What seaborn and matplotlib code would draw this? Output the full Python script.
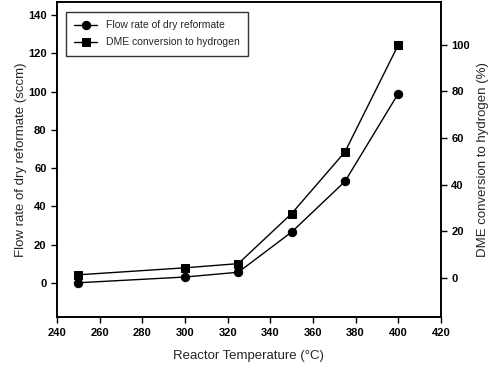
import matplotlib
matplotlib.use("Agg")
import matplotlib.pyplot as plt
import seaborn as sns
import pandas as pd

# data
temps = [250, 300, 325, 350, 375, 400]
flow_rate = [0.0, 3.0, 5.5, 26.5, 53.0, 99.0]        # sccm, left axis
dme_conversion = [1.2, 4.2, 6.0, 27.5, 54.0, 100.0]  # %, right axis

x_ticks = [240, 260, 280, 300, 320, 340, 360, 380, 400, 420]
left_ticks = [0, 20, 40, 60, 80, 100, 120, 140]
right_ticks = [0, 20, 40, 60, 80, 100]

df = pd.DataFrame({"T": temps, "flow": flow_rate, "dme": dme_conversion})

sns.set_style("ticks")
plt.rcParams["font.family"] = ["Liberation Sans", "DejaVu Sans"]

fig = plt.figure(figsize=(4.91, 3.78), dpi=100)
ax = fig.add_axes([0.116, 0.161, 0.782, 0.834])
ax2 = ax.twinx()

sns.lineplot(data=df, x="T", y="flow", marker="o", color="black", markersize=6,
             linewidth=1.0, markeredgecolor="black", ax=ax, label="Flow rate of dry reformate")
sns.lineplot(data=df, x="T", y="dme", marker="s", color="black", markersize=5.5,
             linewidth=1.0, markeredgecolor="black", ax=ax2, label="DME conversion to hydrogen")

ax.set_xlim(240, 420)
ax.set_ylim(-18, 147)
ax2.set_ylim(-17, 118.5)
ax.set_xticks(x_ticks)
ax.set_yticks(left_ticks)
ax2.set_yticks(right_ticks)

for a in (ax, ax2):
    for s in a.spines.values():
        s.set_visible(True)
        s.set_color("black")
        s.set_linewidth(1.2)
    a.tick_params(colors="black", labelsize=8, length=4, width=1)
    for lbl in a.get_xticklabels() + a.get_yticklabels():
        lbl.set_fontweight("bold")

ax.set_xlabel("Reactor Temperature (\u00b0C)", fontsize=9.5, labelpad=9)
ax.set_ylabel("Flow rate of dry reformate (sccm)", fontsize=9.5, labelpad=1)
ax2.set_ylabel("DME conversion to hydrogen (%)", fontsize=9.5, labelpad=5)

h1, l1 = ax.get_legend_handles_labels()
h2, l2 = ax2.get_legend_handles_labels()
if ax2.get_legend():
    ax2.get_legend().remove()
leg = ax.legend(h1 + h2, l1 + l2, loc="upper left", bbox_to_anchor=(0.018, 0.975),
                fontsize=7.5, frameon=True, fancybox=False, edgecolor="black",
                handlelength=2.2, borderpad=0.8, labelspacing=0.7, borderaxespad=0.2)
leg.get_frame().set_linewidth(1.0)

fig.savefig("out.png", dpi=100)
